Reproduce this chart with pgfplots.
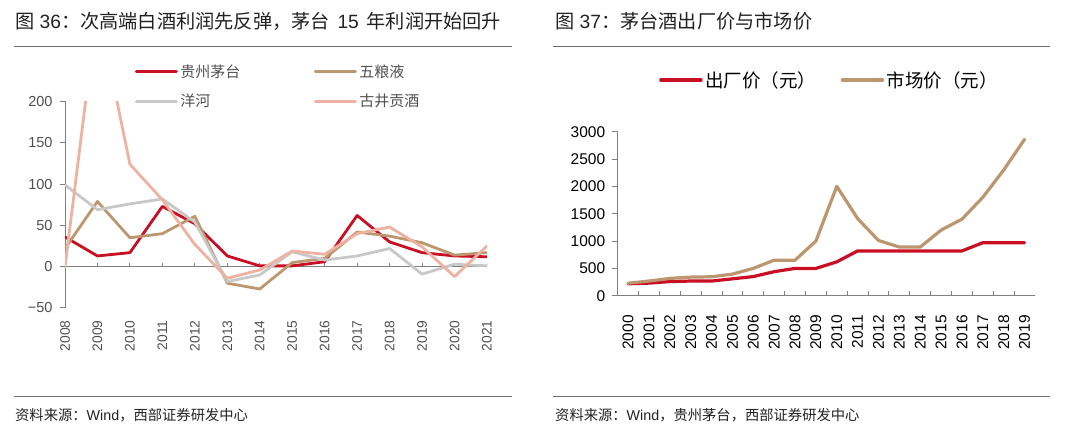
\documentclass[border=0pt]{standalone}
\usepackage{fontspec}
\setmainfont{Liberation Sans}
\newfontfamily\cjk{Noto Sans CJK SC}
\usepackage{pgfplots}
\pgfplotsset{compat=1.18}
\definecolor{mtred}{RGB}{200,15,35}
\definecolor{wlybrown}{RGB}{188,150,110}
\definecolor{yhgray}{RGB}{200,200,200}
\definecolor{gjpink}{RGB}{238,178,162}
\definecolor{axisgray}{RGB}{128,128,128}
\definecolor{labgray}{RGB}{80,80,80}
\definecolor{titlec}{RGB}{34,34,34}
\definecolor{rulec}{RGB}{110,110,110}

\pgfplotstableread{
year mt wly yh gj
2008 36 22 99 0
2009 13 79 69 315
2010 17 35 76 124
2011 73 40 82 81
2012 52 61 54 27
2013 13 -20 -18 -14
2014 1 -27 -10 -4
2015 1 5 18 19
2016 6 10 8 15
2017 62 42 13 40
2018 30 37 22 48
2019 17 29 -9 24
2020 13 14 3 -12
2021 12 17 1 25
}\profit

\pgfplotstableread{
year factory market
2000 218 228
2001 230 268
2002 258 316
2003 268 340
2004 268 346
2005 308 395
2006 350 500
2007 439 650
2008 499 650
2009 499 1000
2010 619 2000
2011 819 1410
2012 819 1010
2013 819 890
2014 819 890
2015 819 1200
2016 819 1400
2017 969 1800
2018 969 2300
2019 969 2860
}\price

\begin{document}
\begin{tikzpicture}
\useasboundingbox (0pt,0pt) rectangle (1080pt,435pt);

% titles
\node[anchor=west,inner sep=0pt,text=titlec,font=\fontsize{19.2}{21}\selectfont] at (15pt,414pt)
 {{\cjk 图} 36{\cjk ：次高端白酒利润先反弹，茅台}\hspace{0.4em}15\hspace{0.4em}{\cjk 年利润开始回升}};
\node[anchor=west,inner sep=0pt,text=titlec,font=\fontsize{19.2}{21}\selectfont] at (555pt,414pt)
 {{\cjk 图} 37{\cjk ：茅台酒出厂价与市场价}};
\draw[rulec,line width=1.3pt] (14pt,388.3pt) -- (512pt,388.3pt);
\draw[rulec,line width=1.3pt] (553pt,388.3pt) -- (1050pt,388.3pt);
\draw[rulec,line width=1.3pt] (14pt,38.3pt) -- (512pt,38.3pt);
\draw[rulec,line width=1.3pt] (553pt,38.3pt) -- (1050pt,38.3pt);
\node[anchor=west,inner sep=0pt,text=titlec,font=\fontsize{14.3}{16}\selectfont] at (15pt,20pt)
 {{\cjk 资料来源：}Wind{\cjk ，西部证券研发中心}};
\node[anchor=west,inner sep=0pt,text=titlec,font=\fontsize{14.3}{16}\selectfont] at (555pt,20pt)
 {{\cjk 资料来源：}Wind{\cjk ，贵州茅台，西部证券研发中心}};

% left chart
\begin{axis}[
 at={(65pt,127pt)}, anchor=south west, scale only axis, width=422pt, height=206.5pt,
 xmin=2008, xmax=2021, ymin=-50, ymax=200,
 axis x line*=bottom, axis y line*=left,
 x axis line style={draw=none},
 y axis line style={draw=axisgray, line width=1pt},
 xtick={2008,...,2021}, major x tick style={draw=none},
 ytick={-50,0,50,100,150,200}, yticklabels={−50,0,50,100,150,200},
 tick align=outside, major tick length=5pt,
 major y tick style={axisgray, line width=1pt},
 xticklabel style={rotate=90, anchor=east, font=\fontsize{13.8}{14}\selectfont, text=labgray},
 xticklabel shift=4pt,
 yticklabel style={font=\fontsize{14.5}{16}\selectfont, text=labgray},
 yticklabel shift=4pt,
 /pgf/number format/1000 sep={},
 /pgf/number format/assume math mode=true,
 legend columns=2,
 legend cell align=left,
 legend image code/.code={\draw[#1, line width=3pt] (0pt,0pt) -- (40pt,0pt);},
 legend style={at={(0.165,1.193)}, anchor=north west, draw=none, fill=none, inner sep=0pt,
   font=\fontsize{15}{16}\selectfont, text=labgray, row sep=10.5pt,
   /tikz/every even column/.append style={column sep=71pt}, nodes={inner sep=2.5pt}},
 every axis plot/.append style={line width=2.8pt, line join=round, line cap=round},
]
\draw[axisgray, line width=1pt] (axis cs:2008,0) -- (axis cs:2021,0);
\pgfplotsinvokeforeach{2009,...,2021}{\draw[axisgray, line width=1pt] (axis cs:#1,0) -- ++(0pt,4pt);}
\addplot[mtred] table[x=year,y=mt] {\profit};
\addlegendentry{\cjk 贵州茅台}
\addplot[wlybrown] table[x=year,y=wly] {\profit};
\addlegendentry{\cjk 五粮液}
\addplot[yhgray] table[x=year,y=yh] {\profit};
\addlegendentry{\cjk 洋河}
\addplot[gjpink] table[x=year,y=gj] {\profit};
\addlegendentry{\cjk 古井贡酒}
\end{axis}

% right chart
\begin{axis}[
 at={(617.7pt,139.3pt)}, anchor=south west, scale only axis, width=417.3pt, height=164pt,
 xmin=1999.5, xmax=2019.5, ymin=0, ymax=3000,
 axis x line*=bottom, axis y line*=left,
 axis line style={draw=axisgray, line width=1pt},
 xtick={2000,...,2019}, major x tick style={draw=none},
 ytick={0,500,...,3000},
 tick align=outside, major tick length=6pt,
 major y tick style={axisgray, line width=1pt},
 xticklabel style={rotate=90, anchor=east, font=\fontsize{15.5}{16}\selectfont, text=black},
 xticklabel shift=10pt,
 yticklabel style={font=\fontsize{15.5}{17}\selectfont, text=black},
 yticklabel shift=3pt,
 /pgf/number format/1000 sep={},
 /pgf/number format/assume math mode=true,
 legend columns=2,
 legend cell align=left,
 legend image code/.code={\draw[#1, line width=3.5pt] (0pt,0pt) -- (40pt,0pt);},
 legend style={at={(0.099,1.315)}, anchor=west, draw=none, fill=none, inner sep=0pt,
   font=\fontsize{18.5}{20}\selectfont, text=black,
   /tikz/every even column/.append style={column sep=22pt}, nodes={inner sep=2.5pt}},
 every axis plot/.append style={line width=3.2pt, line join=round, line cap=round},
]
\pgfplotsinvokeforeach{2000.5,2001.5,...,2019.5}{\draw[axisgray, line width=1pt] (axis cs:#1,0) -- ++(0pt,5pt);}
\addplot[mtred] table[x=year,y=factory] {\price};
\addlegendentry{\cjk 出厂价（元）}
\addplot[wlybrown] table[x=year,y=market] {\price};
\addlegendentry{\cjk 市场价（元）}
\end{axis}
\end{tikzpicture}
\end{document}
